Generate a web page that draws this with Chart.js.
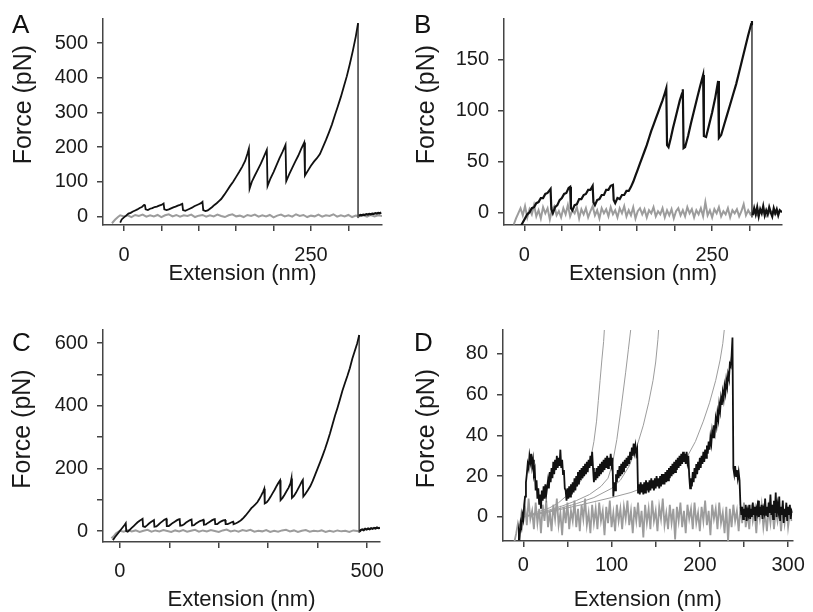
<!DOCTYPE html>
<html>
<head>
<meta charset="utf-8">
<title>Force-extension curves</title>
<script src="https://cdn.jsdelivr.net/npm/chart.js@4.4.1/dist/chart.umd.min.js"></script>
<style>
  body { margin: 0; background: #fff; }
  #wrap { position: relative; width: 813px; height: 612px; overflow: hidden; }
  canvas { position: absolute; }
</style>
</head>
<body>
<div id="wrap">
  <canvas id="chartA" width="400" height="300" style="left:0;top:0"></canvas>
  <canvas id="chartB" width="413" height="300" style="left:400px;top:0"></canvas>
  <canvas id="chartC" width="400" height="312" style="left:0;top:300px"></canvas>
  <canvas id="chartD" width="413" height="312" style="left:400px;top:300px"></canvas>
</div>
<script>
// ---- panel A ----
const aPull = [[-5,-18],[-3,-9],[0,-3],[3,2],[6,8],[9,10],[12,14],[15,17],[18,20],[21,24],[24,27],[27,33],[28,34],
  [29,20],[32,18],[35,22],[38,24],[41,27],[44,28],[47,31],[50,33],[53,37],[54,20],[57,18],[60,20],[63,23],[66,26],
  [69,28],[72,31],[75,33],[78,36],[79,18],[82,16],[85,19],[88,22],[91,25],[94,29],[97,32],[100,35],[103,38],[105,42],
  [106,18],[109,15],[112,17],[115,22],[118,27],[121,33],[124,38],[127,44],[130,50],[134,62],[138,75],[142,88],
  [146,100],[150,114],[154,128],[158,143],[162,160],[165,180],[167,195],[168,80],[171,100],[175,118],[179,135],
  [183,152],[187,172],[191,192],[192,88],[196,110],[200,128],[204,148],[208,168],[212,186],[216,206],[217,102],
  [221,122],[225,140],[229,158],[233,175],[237,195],[241,213],[242,118],[246,132],[250,146],[254,158],[258,168],
  [262,180],[266,200],[270,220],[274,242],[278,265],[282,292],[286,318],[290,345],[294,375],[298,405],[302,440],
  [306,478],[310,520],[313,558]];
const aRupture = [[313,558],[313,-5]];
const aAfter = [[314,2],[316,4],[318,3],[320,5],[322,4],[324,6],[326,5],[328,7],[330,6],[332,8],[334,7],[336,9],
  [338,8],[340,10],[342,9],[344,11]];
const aBaseline = [[-16,-20],[-12,-10],[-8,-2],[-5,3],[0,0],[5,3],[10,-2],[15,4],[20,1],[25,5],[30,-1],[35,3],[40,0],
  [45,4],[50,-2],[55,3],[60,6],[65,0],[70,4],[75,-1],[80,3],[85,1],[90,5],[95,-2],[100,2],[105,4],[110,-1],[115,3],
  [120,0],[125,5],[130,1],[135,-2],[140,3],[145,6],[150,0],[155,2],[160,-2],[165,4],[170,1],[175,5],[180,-1],[185,3],
  [190,0],[195,4],[200,-3],[205,2],[210,5],[215,0],[220,3],[225,-1],[230,6],[235,1],[240,4],[245,-2],[250,2],[255,0],
  [260,5],[265,-1],[270,3],[275,1],[280,6],[285,-1],[290,3],[295,0],[300,4],[305,-2],[310,2],[315,0],[320,3],[325,-1],
  [330,4],[335,0],[340,3],[345,1]];
const aXTicks = [0, 50, 100, 150, 200, 250, 300];
const aXLabels = [0, 250];
const aYTicks = [0, 100, 200, 300, 400, 500];
const aYLabels = [0, 100, 200, 300, 400, 500];

// ---- panel B ----
const bPull = [[-5,-14],[-2,-10],[1,-6],[4,-2],[7,0],[10,4],[13,5],[16,9],[19,10],[22,14],[25,14],[28,18],[31,19],
  [34,22],[35,23],[36,3],[38,-1],[41,5],[44,7],[47,12],[50,14],[53,18],[56,19],[59,24],[61,25],[62,4],[64,2],[67,7],
  [70,8],[73,13],[76,13],[79,17],[82,18],[85,22],[88,22],[91,26],[92,10],[94,7],[97,12],[100,13],[103,17],[106,17],
  [109,22],[112,22],[115,26],[118,27],[119,12],[121,9],[124,14],[127,13],[130,17],[133,17],[136,21],[139,21],[142,25],
  [145,30],[148,36],[151,42],[154,48],[157,54],[160,60],[163,66],[166,73],[169,80],[172,86],[175,92],[178,98],
  [181,104],[184,110],[187,117],[189,122],[190,66],[192,64],[195,73],[198,83],[201,92],[204,101],[207,110],[210,117],
  [211,121],[212,63],[214,64],[218,75],[222,88],[226,100],[230,112],[234,124],[238,135],[239,75],[242,74],[246,86],
  [250,98],[254,112],[258,129],[259,73],[262,76],[266,86],[270,96],[274,106],[278,116],[282,126],[286,138],[290,150],
  [294,162],[298,174],[302,185],[303,188]];
const bRupture = [[303,188],[303,-5]];
const bAfter = [[304,-3],[306,4],[308,-2],[310,5],[312,-4],[314,3],[316,-1],[318,6],[320,-3],[322,2],[324,-2],[326,5],
  [328,0],[330,-4],[332,4],[334,-1],[336,3],[338,-3],[340,2],[343,0]];
const bBaseline = [[-14,-12],[-11,-6],[-8,-1],[-5,4],[-2,-3],[1,6],[4,-5],[7,3],[10,-2],[13,7],[16,-4],[19,2],[22,-6],
  [25,5],[28,-1],[31,4],[34,-7],[37,3],[40,6],[43,-3],[46,1],[49,-5],[52,4],[55,-2],[58,7],[61,-4],[64,2],[67,-1],
  [70,5],[73,-6],[76,3],[79,-2],[82,4],[85,-5],[88,1],[91,6],[94,-3],[97,2],[100,-6],[103,4],[106,-1],[109,3],[112,-4],
  [115,5],[118,-2],[121,2],[124,-5],[127,4],[130,-1],[133,6],[136,-4],[139,2],[142,-3],[145,5],[148,-6],[151,1],
  [154,4],[157,-2],[160,3],[163,-5],[166,2],[169,-1],[172,5],[175,-4],[178,1],[181,-2],[184,4],[187,-5],[190,2],
  [193,-3],[196,3],[199,-6],[202,1],[205,4],[208,-3],[211,2],[214,-4],[217,5],[220,-1],[223,3],[226,-5],[229,2],
  [232,-2],[235,4],[238,-4],[241,10],[244,-3],[247,2],[250,-5],[253,3],[256,-1],[259,5],[262,-4],[265,1],[268,-2],
  [271,4],[274,-5],[277,2],[280,-1],[283,3],[286,-4],[289,1],[292,8],[295,-3],[298,2],[301,-2],[304,1],[310,-3],
  [316,2],[322,-4],[328,1],[334,-2],[340,0]];
const bXTicks = [0, 50, 100, 150, 200, 250, 300];
const bXLabels = [0, 250];
const bYTicks = [0, 50, 100, 150];
const bYLabels = [0, 50, 100, 150];

// ---- panel C ----
const cPull = [[-14,-29],[-10,-20],[-6,-12],[-2,-4],[2,4],[6,12],[10,20],[12,25],[13,0],[16,-2],[20,4],[24,10],
  [28,16],[32,22],[36,28],[40,33],[44,37],[46,39],[47,15],[51,13],[55,18],[59,24],[63,29],[67,33],[69,35],[70,14],
  [74,15],[78,20],[82,26],[86,31],[90,36],[94,39],[95,16],[99,16],[103,21],[107,26],[111,30],[115,34],[119,37],
  [121,38],[122,17],[126,18],[130,22],[134,27],[138,31],[142,35],[145,37],[146,18],[150,19],[154,24],[158,28],
  [162,32],[166,34],[169,36],[170,20],[174,21],[178,26],[182,30],[186,34],[190,37],[192,38],[193,22],[197,22],
  [201,27],[205,31],[209,34],[213,35],[214,22],[218,22],[222,25],[226,28],[229,30],[230,22],[234,24],[238,27],
  [242,31],[246,36],[250,42],[254,49],[258,57],[262,65],[266,73],[270,79],[274,85],[278,92],[282,102],[286,114],
  [290,127],[292,135],[293,88],[297,92],[301,100],[305,110],[309,121],[313,132],[317,144],[321,155],[324,162],
  [325,99],[329,106],[333,116],[337,127],[341,138],[345,152],[347,168],[348,106],[352,112],[356,122],[360,134],
  [364,146],[368,158],[370,163],[371,110],[375,118],[380,130],[385,143],[390,160],[395,180],[400,200],[405,220],
  [410,241],[415,263],[420,287],[425,312],[430,340],[435,368],[440,393],[445,420],[450,448],[455,472],[460,495],
  [465,520],[470,550],[475,575],[480,600],[484,626]];
const cRupture = [[484,626],[484,-5]];
const cAfter = [[485,-2],[487,3],[490,5],[493,3],[496,7],[499,5],[502,8],[505,6],[508,9],[511,7],[514,10],[517,8],
  [520,11],[523,9],[526,10]];
const cBaseline = [[-17,-23],[-12,-16],[-8,-8],[-4,-3],[0,1],[8,-2],[16,3],[24,-1],[32,2],[40,-3],[48,1],[56,4],
  [64,-2],[72,2],[80,-1],[88,3],[96,0],[104,-3],[112,2],[120,-1],[128,3],[136,-2],[144,1],[152,4],[160,-2],[168,2],
  [176,-1],[184,3],[192,0],[200,-3],[208,2],[216,5],[224,-1],[232,2],[240,-2],[248,3],[256,0],[264,4],[272,-2],
  [280,1],[288,-1],[296,3],[304,-3],[312,1],[320,-2],[328,2],[336,4],[344,-1],[352,2],[360,-3],[368,1],[376,3],
  [384,-2],[392,1],[400,-1],[408,2],[416,-3],[424,1],[432,-2],[440,2],[448,-1],[456,1],[464,-3],[472,2],[480,0],
  [486,-2]];
const cXTicks = [0, 100, 200, 300, 400, 500];
const cXLabels = [0, 500];
const cYTicks = [0, 100, 200, 300, 400, 500, 600];
const cYLabels = [0, 200, 400, 600];

// ---- panel D ----
const dPull = [[-6,-11],[-5,-7],[-4,-9],[-3,-3],[-2,-5],[-1,1],[0,-1],[1,6],[2,10],[3,17],[4,21],[5,26],[6,24],
  [7,30],[8,27],[9,31],[10,25],[11,28],[12,21],[13,23],[14,13],[15,18],[16,9],[17,14],[18,6],[19,11],[20,4],[21,13],
  [22,8],[23,15],[24,9],[25,16],[26,11],[28,18],[29,14],[30,22],[31,17],[32,24],[33,19],[34,27],[35,21],[36,28],
  [37,23],[38,30],[39,24],[40,29],[41,25],[42,33],[43,24],[44,28],[45,21],[46,23],[47,14],[48,13],[49,8],[50,14],
  [51,9],[52,15],[53,10],[54,16],[55,11],[56,17],[57,12],[58,19],[59,13],[60,20],[61,15],[62,22],[63,16],[64,23],
  [65,18],[66,24],[67,19],[68,25],[69,20],[70,26],[71,21],[72,27],[73,22],[74,28],[75,24],[76,30],[77,25],[78,32],
  [79,24],[80,17],[81,22],[82,18],[83,24],[84,19],[85,25],[86,20],[87,26],[88,21],[89,27],[90,22],[91,28],[92,23],
  [93,29],[94,24],[95,30],[96,24],[97,29],[98,25],[99,31],[100,26],[101,29],[102,10],[103,17],[104,13],[105,21],
  [106,17],[107,23],[108,19],[109,25],[110,20],[111,26],[112,21],[113,27],[114,22],[115,28],[116,24],[117,29],
  [118,25],[119,30],[120,26],[121,32],[122,28],[123,34],[124,30],[125,36],[126,32],[127,35],[128,31],[129,33],
  [130,12],[131,16],[132,11],[133,17],[134,12],[135,16],[136,11],[137,17],[138,12],[139,18],[140,13],[141,17],
  [142,12],[143,18],[144,13],[145,19],[146,14],[147,18],[148,13],[149,19],[150,14],[151,20],[152,15],[153,19],
  [154,14],[155,20],[156,15],[157,21],[158,16],[159,21],[160,16],[161,22],[162,17],[163,23],[164,18],[165,24],
  [166,19],[167,25],[168,20],[169,26],[170,21],[171,27],[172,22],[173,28],[174,23],[175,29],[176,24],[177,30],
  [178,25],[179,31],[180,26],[181,32],[182,27],[183,31],[184,26],[185,32],[186,27],[187,30],[188,20],[189,14],
  [190,19],[191,15],[192,22],[193,17],[194,24],[195,19],[196,26],[197,21],[198,27],[199,23],[200,29],[201,24],
  [202,30],[203,26],[204,32],[205,27],[206,33],[207,29],[208,35],[209,31],[210,37],[211,33],[212,39],[213,36],
  [214,42],[215,39],[216,45],[217,42],[218,48],[219,45],[220,51],[221,48],[222,55],[223,52],[224,58],[225,55],
  [226,61],[227,58],[228,64],[229,61],[230,67],[231,64],[232,70],[233,68],[234,75],[235,74],[236,79],[237,88],
  [238,24],[239,21],[240,25],[241,20],[242,23],[243,19],[244,22],[245,18],[246,6],[247,1],[248,5],[249,-1],[250,4],
  [251,0],[252,6],[253,-2],[254,3],[255,1],[256,6],[257,-1],[258,4],[259,0],[260,7],[261,1],[262,5],[263,-2],[264,4],
  [265,2],[266,8],[267,0],[268,5],[269,1],[270,6],[271,-1],[272,4],[273,2],[274,9],[275,1],[276,5],[277,0],[278,7],
  [279,2],[280,11],[281,1],[282,6],[283,-1],[284,8],[285,2],[286,12],[287,0],[288,6],[289,3],[290,10],[291,-2],
  [292,5],[293,1],[294,8],[295,-3],[296,4],[297,0],[298,7],[299,-2],[300,5],[301,1],[302,6],[303,-1],[304,3],[305,2]];
const dBaseline = [[-10,-12],[-8,-8],[-6,-3],[-4,-6],[-2,2],[0,-2],[2,5],[4,-4],[6,9],[8,-1],[10,3],[12,-6],[14,7],
  [16,-3],[18,4],[20,-8],[22,6],[24,-2],[26,8],[28,-5],[30,3],[32,-7],[34,6],[36,-1],[38,9],[40,-4],[42,2],[44,-9],
  [46,5],[48,-3],[50,7],[52,-6],[54,3],[56,-2],[58,8],[60,-5],[62,4],[64,-7],[66,6],[68,-1],[70,9],[72,-4],[74,2],
  [76,-8],[78,6],[80,-3],[82,4],[84,-6],[86,7],[88,-2],[90,3],[92,-9],[94,5],[96,-3],[98,8],[100,-5],[102,2],[104,-7],
  [106,6],[108,-2],[110,4],[112,-6],[114,5],[116,-1],[118,8],[120,-4],[122,3],[124,-8],[126,5],[128,-2],[130,7],
  [132,-5],[134,3],[136,-10],[138,6],[140,-3],[142,4],[144,-6],[146,8],[148,-2],[150,3],[152,-7],[154,5],[156,-1],
  [158,9],[160,-4],[162,2],[164,-6],[166,6],[168,-3],[170,4],[172,-11],[174,5],[176,-2],[178,7],[180,-5],[182,3],
  [184,-8],[186,6],[188,-1],[190,4],[192,-6],[194,7],[196,-3],[198,2],[200,-7],[202,5],[204,-2],[206,8],[208,-4],
  [210,3],[212,-9],[214,6],[216,-1],[218,4],[220,-6],[222,7],[224,-3],[226,2],[228,-8],[230,5],[232,-12],[234,4],
  [236,-5],[238,6],[240,-2],[242,3],[244,-7],[246,5],[248,-3],[250,7],[252,-5],[254,2],[256,-6],[258,6],[260,-2],
  [262,3],[264,-8],[266,5],[268,-1],[270,6],[272,-5],[274,2],[276,-7],[278,4],[280,-3],[282,6],[284,-6],[286,3],
  [288,-2],[290,5],[292,-7],[294,4],[296,-3],[298,6],[300,-5],[302,2],[304,-2]];
// worm-like-chain fits drawn in grey
const dFit1 = [[0,0],[10,1.5],[20,3],[30,4.5],[40,7],[48,10],[56,13],[64,17],[70,21],[74,25],[77,30],[80,37],
  [83,47],[85,57],[87,67],[89,77],[91,86],[92,93]];
const dFit2 = [[0,0],[15,1.5],[30,3.5],[45,5.5],[60,8],[75,11],[88,15],[96,19],[101,26],[106,38],[111,54],[116,71],
  [119,82],[122,93]];
const dFit3 = [[0,0],[20,2],[40,4],[60,6.5],[80,9.5],[100,14],[110,18],[120,25],[129,35],[136,45],[142,56],[147,67],
  [150,76],[152.5,87],[153.5,93]];
const dFit4 = [[0,0],[30,2.5],[66,6],[100,9.5],[122,12],[140,15],[159,19],[172,23],[185,29],[195,37],[204,47],
  [211,56],[218,67],[223,77],[226,85],[228,93]];
const dXTicks = [0, 50, 100, 150, 200, 250, 300];
const dXLabels = [0, 100, 200, 300];
const dYTicks = [0, 20, 40, 60, 80];
const dYLabels = [0, 20, 40, 60, 80];

Chart.defaults.font.family = '"Liberation Sans", Arial, Helvetica, sans-serif';
Chart.defaults.color = '#1a1a1a';

const BLACK = '#111111';
const GREY = '#9c9c9c';
const AXIS = '#444444';

function toXY(pairs) {
  return pairs.map(p => ({ x: p[0], y: p[1] }));
}

function trace(pairs, color, width) {
  return { data: toXY(pairs), borderColor: color, borderWidth: width, pointRadius: 0, tension: 0, fill: false };
}

// draws the panel letter (A, B, C, D) in the corner
const panelLetter = {
  id: 'panelLetter',
  afterDraw(chart, args, opts) {
    const ctx = chart.ctx;
    ctx.save();
    ctx.font = '26px "Liberation Sans", Arial, sans-serif';
    ctx.fillStyle = '#111';
    ctx.textBaseline = 'alphabetic';
    ctx.fillText(opts.text, opts.x, opts.y);
    ctx.restore();
  }
};

function axisOptions(range, ticks, labels, size, isX, tickPad, titlePad, titleText) {
  return {
    type: 'linear',
    min: range[0],
    max: range[1],
    afterBuildTicks: (axis) => { axis.ticks = ticks.map(v => ({ value: v })); },
    afterFit: (scale) => { if (isX) scale.height = size; else scale.width = size; },
    grid: { display: true, drawOnChartArea: false, drawTicks: true, tickLength: 6, color: AXIS, lineWidth: 1.5 },
    border: { display: true, color: AXIS, width: 1.5 },
    ticks: {
      autoSkip: false,
      maxRotation: 0,
      padding: tickPad,
      font: { size: 20, lineHeight: 1 },
      color: '#1a1a1a',
      callback: (v) => labels.includes(v) ? String(v) : ''
    },
    title: {
      display: true,
      text: titleText,
      font: { size: isX ? 22 : 25, lineHeight: 1.2 },
      color: '#1a1a1a',
      padding: isX ? { top: 0, bottom: titlePad } : { top: titlePad, bottom: 0 }
    }
  };
}

function buildPanel(id, p) {
  return new Chart(document.getElementById(id), {
    type: 'line',
    data: { datasets: p.datasets },
    options: {
      responsive: false,
      animation: false,
      devicePixelRatio: 1,
      layout: { padding: p.padding },
      plugins: {
        legend: { display: false },
        tooltip: { enabled: false },
        panelLetter: p.letter
      },
      scales: {
        x: axisOptions(p.xRange, p.xTicks, p.xLabels, p.xHeight, true, p.xTickPad, p.xTitlePad, 'Extension (nm)'),
        y: axisOptions(p.yRange, p.yTicks, p.yLabels, p.yWidth, false, 9, p.yTitlePad, p.yTitle)
      }
    },
    plugins: [panelLetter]
  });
}

buildPanel('chartA', {
  datasets: [trace(aPull, BLACK, 1.8), trace(aAfter, BLACK, 2.2), trace(aRupture, '#555', 1), trace(aBaseline, GREY, 2)],
  xRange: [-28, 345], xTicks: aXTicks, xLabels: aXLabels, xHeight: 75, xTickPad: 14, xTitlePad: 13,
  yRange: [-25, 570], yTicks: aYTicks, yLabels: aYLabels, yWidth: 103, yTitlePad: 9,
  yTitle: '     Force (pN)',
  padding: { top: 14, right: 18, left: 0, bottom: 0 },
  letter: { text: 'A', x: 12, y: 33 }
});

buildPanel('chartB', {
  datasets: [trace(bPull, BLACK, 2.2), trace(bAfter, BLACK, 2.2), trace(bRupture, '#555', 1), trace(bBaseline, GREY, 2)],
  xRange: [-27, 343], xTicks: bXTicks, xLabels: bXLabels, xHeight: 75, xTickPad: 14, xTitlePad: 13,
  yRange: [-12.5, 190], yTicks: bYTicks, yLabels: bYLabels, yWidth: 104, yTitlePad: 12,
  yTitle: '     Force (pN)',
  padding: { top: 14, right: 31, left: 0, bottom: 0 },
  letter: { text: 'B', x: 14, y: 33 }
});

buildPanel('chartC', {
  datasets: [trace(cPull, BLACK, 1.8), trace(cAfter, BLACK, 2.2), trace(cRupture, '#555', 1), trace(cBaseline, GREY, 2)],
  xRange: [-34, 526], xTicks: cXTicks, xLabels: cXLabels, xHeight: 70, xTickPad: 13, xTitlePad: -1,
  yRange: [-35, 642], yTicks: cYTicks, yLabels: cYLabels, yWidth: 103, yTitlePad: 8,
  yTitle: '  Force (pN)',
  padding: { top: 30, right: 20, left: 0, bottom: 0 },
  letter: { text: 'C', x: 12, y: 51 }
});

buildPanel('chartD', {
  datasets: [trace(dPull, BLACK, 1.8), trace(dFit1, GREY, 1), trace(dFit2, GREY, 1), trace(dFit3, GREY, 1),
    trace(dFit4, GREY, 1), trace(dBaseline, GREY, 1.8)],
  xRange: [-23, 305], xTicks: dXTicks, xLabels: dXLabels, xHeight: 71, xTickPad: 8, xTitlePad: -1,
  yRange: [-11.8, 91.7], yTicks: dYTicks, yLabels: dYLabels, yWidth: 103, yTitlePad: 12,
  yTitle: '  Force (pN)',
  padding: { top: 30, right: 15, left: 0, bottom: 0 },
  letter: { text: 'D', x: 14, y: 51 }
});
</script>
</body>
</html>
